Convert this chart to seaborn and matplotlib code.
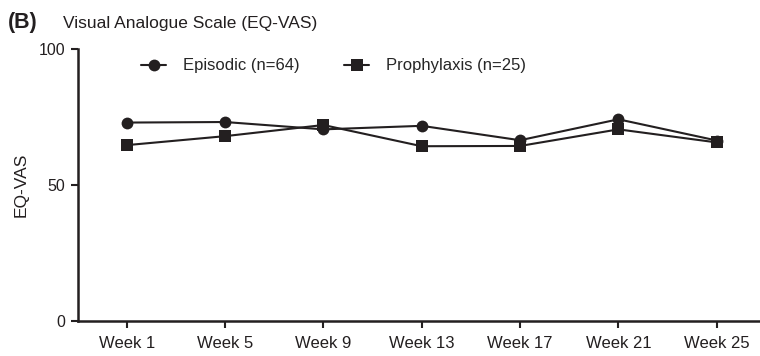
import pandas as pd
import matplotlib
matplotlib.use("Agg")
import matplotlib.pyplot as plt
import seaborn as sns

# values
weeks = ["Week 1", "Week 5", "Week 9", "Week 13", "Week 17", "Week 21", "Week 25"]
episodic = [73.0, 73.2, 70.5, 71.8, 66.5, 74.2, 66.4]
prophylaxis = [64.7, 68.0, 72.1, 64.3, 64.4, 70.5, 65.7]
groups = ["Episodic (n=64)", "Prophylaxis (n=25)"]

df = pd.DataFrame({
    "week": weeks * 2,
    "pos": list(range(len(weeks))) * 2,
    "vas": episodic + prophylaxis,
    "group": [groups[0]] * len(weeks) + [groups[1]] * len(weeks),
})

sns.set_theme(style="ticks")
plt.rcParams["font.family"] = ["Liberation Sans", "DejaVu Sans"]
ink = "#231f20"

fig = plt.figure(figsize=(7.6, 3.56), dpi=100)
ax = fig.add_axes([0.102, 0.098, 0.898, 0.764])

sns.lineplot(data=df, x="pos", y="vas", hue="group", style="group",
             markers=["o", "s"], dashes=False, palette=[ink, ink],
             markersize=8.5, linewidth=1.5, markeredgewidth=0,
             ax=ax)

ax.set_xlim(-0.5, 6.44)
ax.set_ylim(0, 100)
ax.set_xticks(range(len(weeks)))
ax.set_xticklabels(weeks)
ax.set_yticks([0, 50, 100])
ax.set_xlabel("")
ax.set_ylabel("EQ-VAS", fontsize=12.5, color=ink, labelpad=7)
ax.tick_params(axis="both", colors=ink, width=1.5, length=5)
ax.tick_params(axis="x", labelsize=12, pad=6)
ax.tick_params(axis="y", labelsize=11.5, pad=4)
sns.despine(ax=ax)
for s in ["left", "bottom"]:
    ax.spines[s].set_linewidth(1.8)
    ax.spines[s].set_color(ink)

ax.legend(loc="center left", bbox_to_anchor=(0.166, 0.815),
          bbox_transform=fig.transFigure, ncol=2, frameon=False,
          fontsize=12, handlelength=1.5, columnspacing=2.7,
          handletextpad=1.0)

fig.text(0.010, 0.92, "(B)", fontsize=15.5, fontweight="bold", color=ink)
fig.text(0.083, 0.922, "Visual Analogue Scale (EQ-VAS)", fontsize=12.5, color=ink)

fig.savefig("out.png", dpi=100)
